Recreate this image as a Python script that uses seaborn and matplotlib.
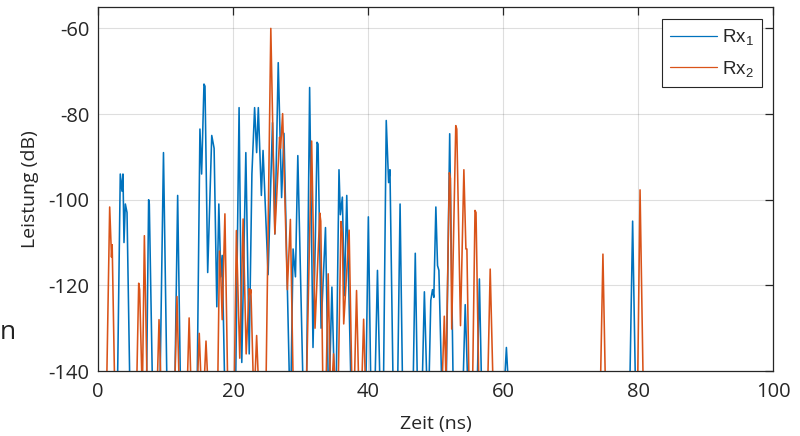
import matplotlib
matplotlib.use("Agg")
import matplotlib.pyplot as plt
import pandas as pd
import seaborn as sns

# Power delay profiles of two receive antennas (dB over delay in ns).
# Samples below the plotted range are stored at -142 dB so the traces drop off the axis.
rx1_time = [
    2.9, 3.3, 3.55, 3.7, 3.85, 4.05, 4.3, 4.7,
    7.2, 7.5, 7.6, 8.05,
    9.2, 9.7, 10.2,
    11.4, 11.8, 12.2,
    14.7, 15.1, 15.35, 15.7, 15.85, 16.25, 16.85, 17.2, 17.6, 17.9, 18.2, 18.4, 18.75,
    20.4, 20.9, 21.3, 21.9, 22.4, 22.8, 23.2, 23.5, 23.75, 24.2, 24.45, 25.2, 25.85,
    26.2, 26.7, 27.2, 27.55, 28.35,
    28.6, 28.9, 29.25, 29.6, 30.35,
    30.9, 31.35, 31.85, 32.2, 32.45, 32.6, 33.05, 33.7, 34.1,
    34.3, 34.65, 35.0,
    35.3, 35.7, 35.9, 36.2, 36.5, 36.85, 37.45,
    39.7, 40.05, 40.4,
    41.05, 41.4, 41.75,
    42.3, 42.7, 43.05, 43.25, 43.7,
    44.4, 44.75, 45.1,
    46.7, 47.0, 47.3,
    48.05, 48.35, 48.7,
    49.05, 49.3, 49.55, 49.75, 50.05, 50.3, 50.5, 50.9,
    51.6, 52.1, 52.6,
    54.1, 54.4, 54.75,
    56.2, 56.5, 56.8,
    60.25, 60.5, 60.75,
    78.8, 79.2, 79.6,
]
rx1_level = [
    -142, -94, -98, -94, -110, -101, -103, -142,
    -142, -100, -101, -142,
    -142, -89, -142,
    -142, -99, -142,
    -142, -83.5, -94, -73, -73.5, -117, -85, -88, -125, -101, -118, -113, -142,
    -142, -78.5, -138, -89, -136, -94, -78.5, -89, -78.5, -99, -88.5, -117.5, -82,
    -108, -68, -99.5, -84.5, -142,
    -142, -111.5, -118, -89.7, -142,
    -142, -73.8, -134.5, -109, -86.6, -87, -130, -106.5, -142,
    -142, -120.4, -142,
    -142, -93, -103.5, -99.4, -122.4, -99, -142,
    -142, -104, -142,
    -142, -116.5, -142,
    -142, -81.5, -96, -93, -142,
    -142, -101, -142,
    -142, -112.5, -142,
    -142, -121.5, -142,
    -142, -123.5, -121, -122.8, -101.7, -115.4, -116.5, -142,
    -142, -84.6, -142,
    -142, -124.5, -142,
    -142, -118.5, -142,
    -142, -134.5, -142,
    -142, -105, -142,
]

rx2_time = [
    1.3, 1.73, 2.0, 2.1, 2.45,
    5.75, 6.03, 6.17, 6.5,
    6.6, 6.87, 7.26,
    8.8, 9.04, 9.3,
    11.4, 11.7, 12.0,
    13.25, 13.5, 13.75,
    14.75, 15.0, 15.25,
    15.75, 16.0, 16.25,
    17.75, 18.0, 18.2, 18.4, 18.8, 19.2,
    20.2, 20.5, 21.0, 21.5, 21.95, 22.4, 22.55, 22.65, 23.0,
    23.25, 23.5, 23.75,
    24.9, 25.6, 26.2, 26.9, 27.05, 27.35, 28.05, 28.5, 28.9,
    30.9, 31.65, 32.15, 32.85, 33.0, 33.3,
    33.8, 34.1, 34.4,
    34.7, 34.9, 35.1,
    35.6, 36.0, 36.2, 36.4, 37.2, 37.6,
    38.0, 38.3, 38.6,
    39.1, 39.35, 39.6,
    51.0, 51.3, 51.55, 52.05, 52.2, 52.4, 53.0, 53.15, 53.7, 54.2, 54.5, 54.65, 54.95,
    55.5, 55.85, 56.0, 56.4,
    57.75, 58.1, 58.5,
    74.45, 74.8, 75.15,
    79.95, 80.3, 80.75,
]
rx2_level = [
    -142, -101.7, -113.4, -110.5, -142,
    -142, -119.5, -121, -142,
    -142, -108.4, -142,
    -142, -128, -142,
    -142, -122.6, -142,
    -142, -127.6, -142,
    -142, -131.2, -142,
    -142, -133, -142,
    -142, -112, -118, -128, -103.3, -142,
    -142, -107.2, -137, -104.5, -136, -120.8, -122, -121, -142,
    -142, -131.7, -142,
    -142, -60, -108, -85.4, -88, -79.9, -121, -104.6, -142,
    -142, -86.3, -130, -103.1, -105, -142,
    -142, -117.3, -142,
    -142, -136, -142,
    -142, -105.1, -108, -129, -107.1, -142,
    -142, -121.2, -142,
    -142, -127.9, -142,
    -142, -127.2, -142, -93.7, -95, -130.2, -82.7, -83.5, -129.4, -93, -111.5, -111.5, -142,
    -142, -102.5, -103, -142,
    -142, -116.2, -142,
    -142, -112.7, -142,
    -142, -97.7, -142,
]

series_names = ["Rx$_1$", "Rx$_2$"]
series_colors = ["#0072BD", "#D95319"]
x_ticks = [0, 20, 40, 60, 80, 100]
y_ticks = [-140, -120, -100, -80, -60]

df = pd.concat([
    pd.DataFrame({"Zeit": rx1_time, "Leistung": rx1_level, "Kanal": series_names[0]}),
    pd.DataFrame({"Zeit": rx2_time, "Leistung": rx2_level, "Kanal": series_names[1]}),
], ignore_index=True)

sns.set_style("white")
plt.rcParams["font.family"] = ["Open Sans", "DejaVu Sans"]
plt.rcParams["axes.unicode_minus"] = False
plt.rcParams["mathtext.default"] = "regular"

ink = "#262626"
fig = plt.figure(figsize=(8.0, 4.36), dpi=100)
ax = fig.add_axes([0.1225, 0.149, 0.8438, 0.835])

sns.lineplot(data=df, x="Zeit", y="Leistung", hue="Kanal",
             palette=series_colors, estimator=None, sort=False,
             linewidth=1.15, ax=ax)

ax.set_xlim(0, 100)
ax.set_ylim(-140, -55)
ax.set_xticks(x_ticks)
ax.set_yticks(y_ticks)
ax.set_xticklabels([str(v) for v in x_ticks])
ax.set_yticklabels([str(v) for v in y_ticks])
ax.set_xlabel("Zeit (ns)", fontsize=14, color=ink, labelpad=9)
ax.set_ylabel("Leistung (dB)", fontsize=14, color=ink, labelpad=7)

ax.grid(True, color=ink, alpha=0.15, linewidth=0.8)
ax.set_axisbelow(True)
for s in ax.spines.values():
    s.set_visible(True)
    s.set_color(ink)
    s.set_linewidth(0.9)
ax.tick_params(direction="in", length=6, width=0.9, top=True, right=True,
               colors=ink, labelsize=14.5)
ax.tick_params(axis="x", pad=8)
ax.tick_params(axis="y", pad=6)

handles, labels = ax.get_legend_handles_labels()
leg = ax.legend(handles, labels, loc="upper right", bbox_to_anchor=(0.984, 0.967),
                borderaxespad=0, frameon=True, fancybox=False, framealpha=1,
                edgecolor=ink, handlelength=2.5, handletextpad=0.25,
                borderpad=0.45, labelspacing=0.6,
                prop={"family": "Liberation Sans", "size": 13.5})
leg.get_frame().set_linewidth(0.8)
for line in leg.get_lines():
    line.set_linewidth(0.9)

fig.text(0.0, 1 - 339 / 436, "n", ha="left", va="baseline",
         fontsize=19, color="#222222")

fig.savefig("out.png", dpi=100)
